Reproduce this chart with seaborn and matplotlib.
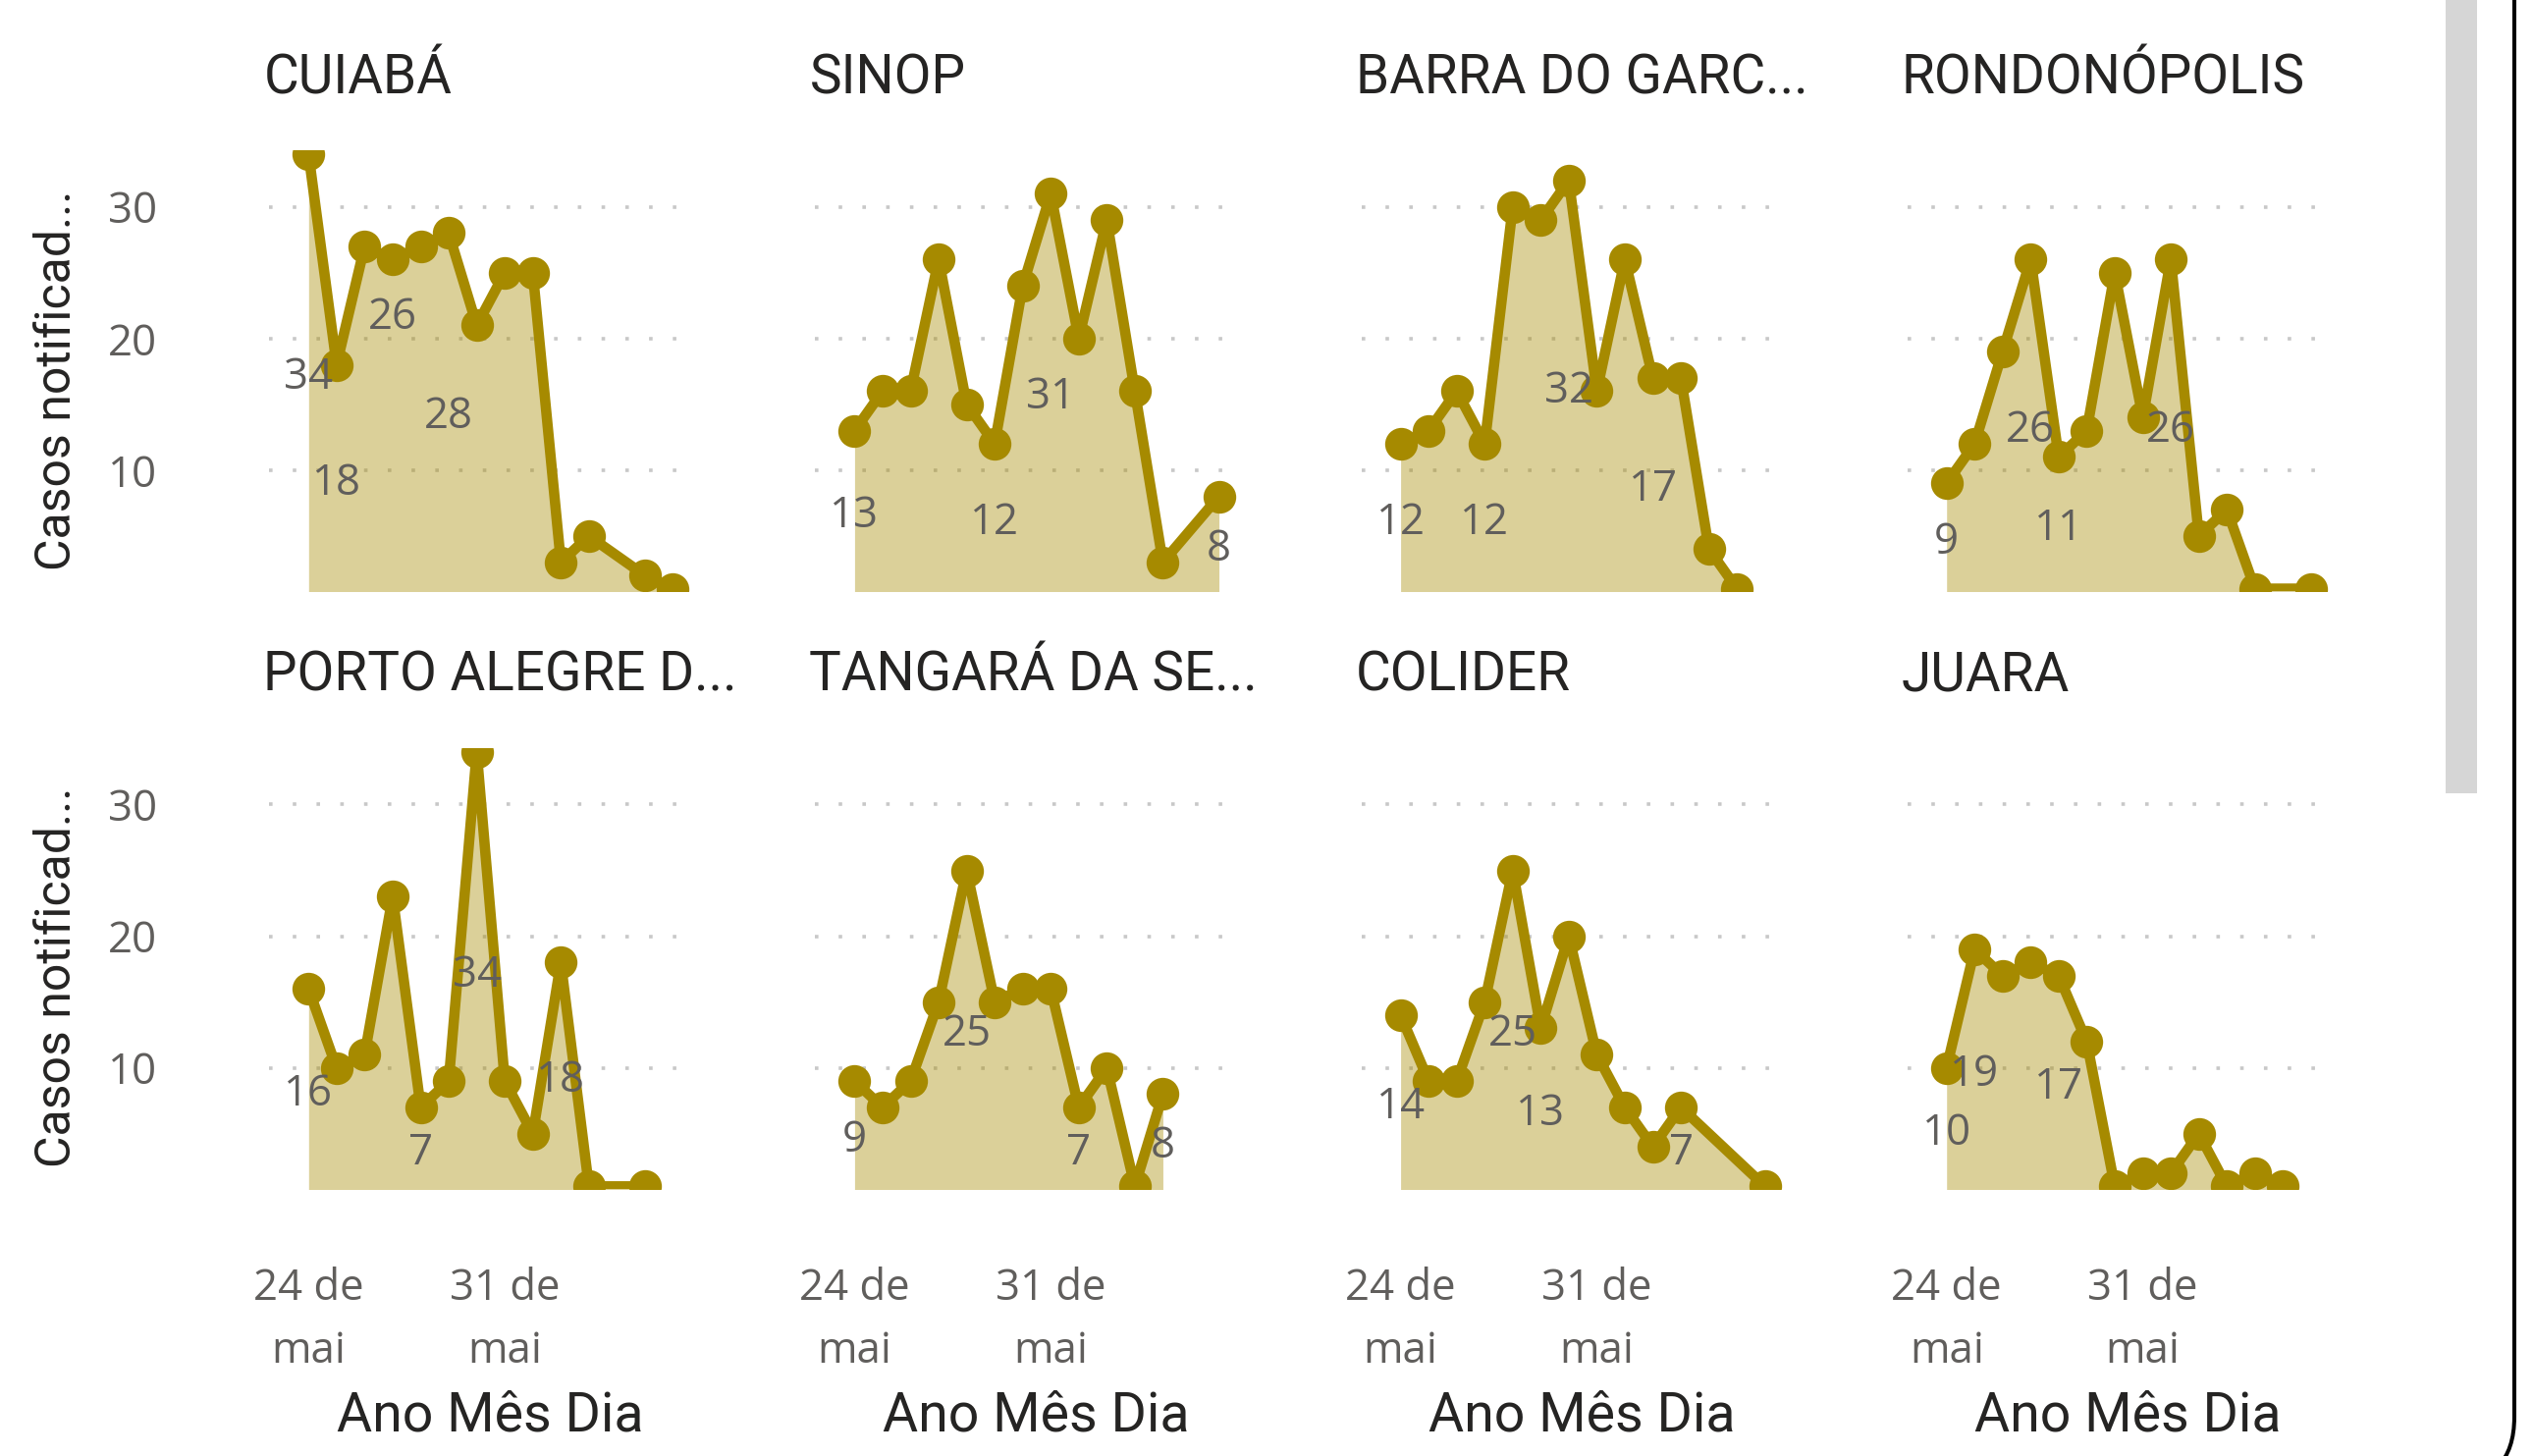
import numpy as np
import pandas as pd
import matplotlib
matplotlib.use("Agg")
import matplotlib.pyplot as plt
import matplotlib.dates as mdates
import seaborn as sns
from matplotlib.patches import FancyBboxPatch, Rectangle

# ---------------- data ----------------
datas = ["2020-05-24", "2020-05-25", "2020-05-26", "2020-05-27", "2020-05-28",
         "2020-05-29", "2020-05-30", "2020-05-31", "2020-06-01", "2020-06-02",
         "2020-06-03", "2020-06-04", "2020-06-05", "2020-06-06"]
rotulos_x = ["24 de\nmai", "31 de\nmai"]
ticks_x = ["2020-05-24", "2020-05-31"]
ticks_y = [10, 20, 30]

municipios = ["CUIABÁ", "SINOP", "BARRA DO GARC...", "RONDONÓPOLIS",
              "PORTO ALEGRE D...", "TANGARÁ DA SE...", "COLIDER", "JUARA"]

cuiaba = [34, 18, 27, 26, 27, 28, 21, 25, 25, 3, 5, None, 2, 1]
sinop = [13, 16, 16, 26, 15, 12, 24, 31, 20, 29, 16, 3, None, 8]
barra = [12, 13, 16, 12, 30, 29, 32, 16, 26, 17, 17, 4, 1, None]
rondonopolis = [9, 12, 19, 26, 11, 13, 25, 14, 26, 5, 7, 1, None, 1]
porto_alegre = [16, 10, 11, 23, 7, 9, 34, 9, 5, 18, 1, None, 1, None]
tangara = [9, 7, 9, 15, 25, 15, 16, 16, 7, 10, 1, 8, None, None]
colider = [14, 9, 9, 15, 25, 13, 20, 11, 7, 4, 7, None, None, 1]
juara = [10, 19, 17, 18, 17, 12, 1, 2, 2, 5, 1, 2, 1, None]

series = [cuiaba, sinop, barra, rondonopolis, porto_alegre, tangara, colider, juara]

# indices of points that carry a data label (as shown in the visual)
rotulados = [[0, 1, 3, 5], [0, 5, 7, 13], [0, 3, 6, 9], [0, 3, 4, 8],
             [0, 4, 6, 9], [0, 4, 8, 11], [0, 4, 5, 10], [0, 1, 4]]

# ---------------- style ----------------
W, H = 2580, 1483
COR = "#A68A00"
CINZA = "#605E5C"
ESCURO = "#252423"
FONTE_TIT = ["Roboto", "DejaVu Sans"]
FONTE_TXT = ["Open Sans", "DejaVu Sans"]

sns.set_style("white")
plt.rcParams["font.family"] = FONTE_TXT

fig = plt.figure(figsize=(W / 100, H / 100), dpi=100)

# background decorations (scrollbar + container border)
bg = fig.add_axes([0, 0, 1, 1], zorder=-10)
bg.set_xlim(0, W)
bg.set_ylim(0, H)
bg.axis("off")
bg.add_patch(Rectangle((2491, H - 808), 32, 808, facecolor="#D6D6D6", edgecolor="none"))
bg.add_patch(FancyBboxPatch((-300, H - 1511), 2561 + 300, 1511 + 300,
                            boxstyle="round,pad=0,rounding_size=68",
                            facecolor="none", edgecolor="black", linewidth=2.9))

# layout in pixels
idx0 = [314.3, 870.4, 1426.6, 1982.7]
dia_px = 28.55
xl_left, xl_right = -1.4, 13.8
row_top = [153.0, 761.8]
ylo, yhi = 0.8, 34.3
px_unit = 13.41
row_h = (yhi - ylo) * px_unit

dnum = mdates.date2num(pd.to_datetime(datas).to_pydatetime())
t0n = dnum[0]

for k, (nome, vals, rot) in enumerate(zip(municipios, series, rotulados)):
    r, c = divmod(k, 4)
    left = idx0[c] + xl_left * dia_px
    width = (xl_right - xl_left) * dia_px
    bottom = H - (row_top[r] + row_h)
    ax = fig.add_axes([left / W, bottom / H, width / W, row_h / H])

    df = pd.DataFrame({"data": dnum, "casos": vals}).dropna()
    ax.fill_between(df["data"], df["casos"], 0, color=COR, alpha=0.4,
                    linewidth=0, zorder=2)
    sns.lineplot(data=df, x="data", y="casos", ax=ax, color=COR,
                 marker="o", zorder=3)
    for ln in ax.lines:
        ln.set_linewidth(7.6)
        ln.set_markersize(24)
        ln.set_markeredgewidth(0)
        ln.set_markerfacecolor(COR)
        ln.set_color(COR)
        ln.set_solid_joinstyle("round")

    for i in rot:
        v = vals[i]
        frac = 0.5
        if k == 0 and i == 3:
            frac = 0.83
        ax.text(dnum[i], v * frac, str(int(v)), ha="center", va="center",
                fontsize=31.5, color=CINZA, zorder=5, family=FONTE_TXT)

    ax.set_xlim(t0n + xl_left, t0n + xl_right)
    ax.set_ylim(ylo, yhi)
    ax.set_yticks(ticks_y)
    ax.set_xticks(mdates.date2num(pd.to_datetime(ticks_x).to_pydatetime()))
    ax.set_xticklabels(rotulos_x)
    ax.yaxis.grid(True, color="#C8C8C8", linestyle=(0, (1, 5.7)), linewidth=2.6)
    ax.xaxis.grid(False)
    ax.set_axisbelow(True)
    for s in ax.spines.values():
        s.set_visible(False)
    ax.set_xlabel("")
    ax.set_ylabel("")
    ax.set_facecolor("none")
    ax.tick_params(axis="y", length=0, pad=82, labelsize=31.5, labelcolor=CINZA,
                   labelleft=(c == 0))
    ax.tick_params(axis="x", length=0, pad=57, labelsize=31.5, labelcolor=CINZA,
                   labelbottom=(r == 1))
    for lbl in ax.get_xticklabels():
        lbl.set_linespacing(1.6)

    # small-multiple title
    base = 96 if r == 0 else 703
    fig.text((left - 6) / W, (H - base) / H, nome, fontsize=39.5, family=FONTE_TIT,
             color=ESCURO, ha="left", va="baseline")

    if r == 1:
        fig.text((left + width / 2 + 8) / W, (H - 1458) / H, "Ano Mês Dia",
                 fontsize=40, family=FONTE_TIT, color=ESCURO,
                 ha="center", va="baseline")

for r in range(2):
    yc = 387 + r * 608.8
    fig.text(57.6 / W, (H - yc) / H, "Casos notificad...", rotation=90,
             fontsize=36, family=FONTE_TIT, color=ESCURO, ha="center", va="center")

fig.savefig("out.png", dpi=100, facecolor="white")
